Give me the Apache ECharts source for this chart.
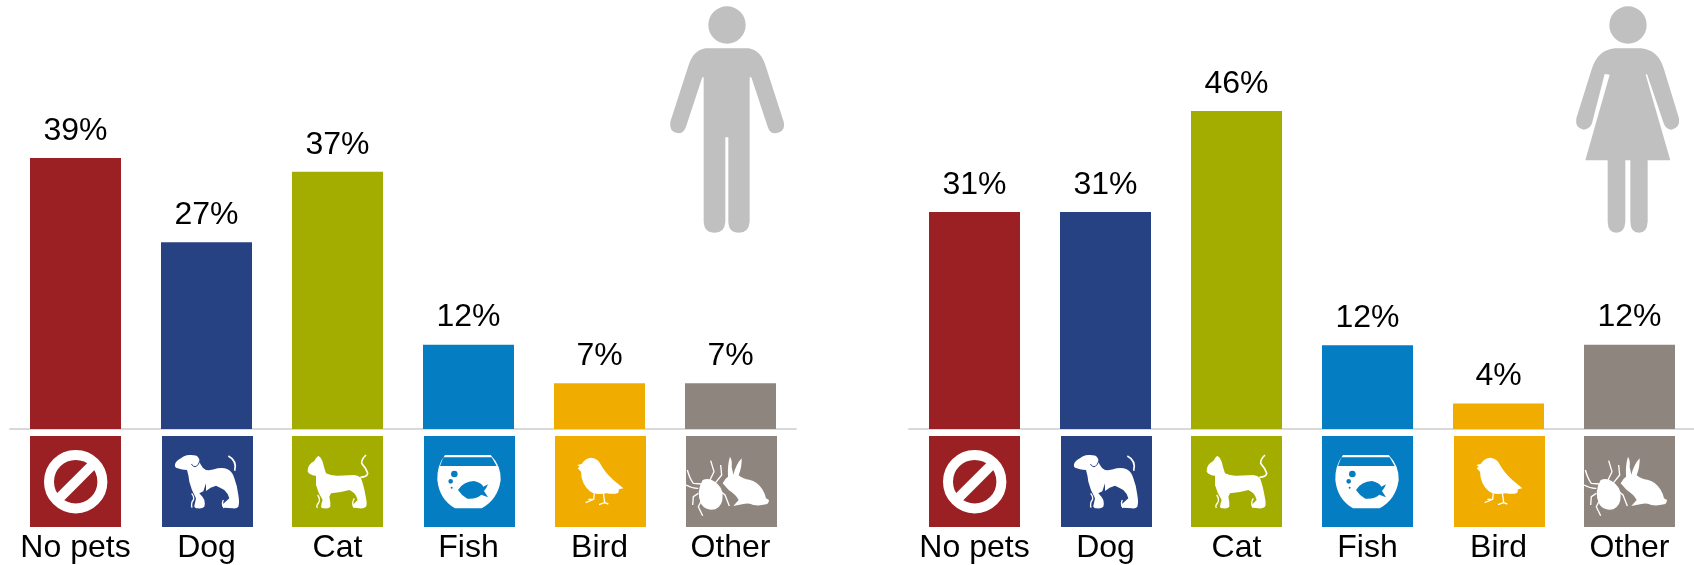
<!DOCTYPE html>
<html><head><meta charset="utf-8">
<style>html,body{margin:0;padding:0;background:#fff}#c{width:1694px;height:565px}</style>
<script src="https://cdn.jsdelivr.net/npm/echarts@6/dist/echarts.min.js"></script>
</head><body><div id="c"></div>
<script>
const categories = ['No pets','Dog','Cat','Fish','Bird','Other'];
const menValues = [39.2,27.0,37.2,12.2,6.6,6.6];
const womenValues = [31.4,31.4,46.0,12.1,3.7,12.2];
const colors = ['#9b2023','#274283','#a3ad00','#057dc2','#f0ad00','#8f857f'];
const iconShiftMen = [0,1,0,1,1,1];
const iconShiftWomen = [0,1,0,0,1,0];

function dot(x,y,r){return `M${x-r},${y}a${r},${r} 0 1,0 ${2*r},0a${r},${r} 0 1,0 ${-2*r},0Z`;}

// Icon shapes are drawn in a 273-unit tile (scaled to the 91px tile).
const icons = [
 { circle:true },
 { fill:'M39,85 Q42,74 57,67 Q66,58 82,57 Q104,56 107,62 Q114,68 112,77 L117,87 Q122,98 132,102 Q150,104 167,97 Q184,94 197,100 Q212,108 217,127 Q226,150 229,177 Q233,200 229,212 Q224,219 212,217 L187,215 Q178,212 182,205 Q190,198 202,187 Q198,172 187,162 Q174,154 162,149 L146,155 L132,165 L132,142 L124,166 L112,172 Q122,182 127,192 Q130,206 127,212 Q120,219 107,217 Q96,216 97,209 Q100,198 102,187 Q88,162 82,137 Q80,118 75,102 Q66,102 57,100 L42,95 Q37,92 39,85Z',
   lines:[[5,'M199,60 Q226,74 218,104'],[4,'M89,172 Q98,184 94,192 Q86,202 90,215'],[4,'M184,192 Q178,204 186,216']],
   ink:[[3,'M88,84 Q94,94 102,92 Q110,86 113,76']] },
 { fill:'M79,59 Q88,64 92,77 Q96,94 102,112 Q118,120 137,119 L187,117 Q200,118 207,127 Q216,150 222,187 Q226,205 222,212 Q214,219 202,217 L187,215 Q180,212 182,207 L197,192 Q194,180 187,172 Q180,166 172,162 Q145,170 117,172 L112,182 Q116,198 115,212 Q110,219 97,217 Q87,216 87,212 Q88,202 92,192 Q78,170 72,147 L72,119 Q55,118 47,107 Q46,96 52,87 Q58,80 67,75 Q72,64 79,59Z',
   lines:[[5,'M205,124 Q226,122 227,112 Q222,96 209,82 Q208,70 222,57'],[4,'M77,177 Q86,190 80,200 Q72,208 76,216'],[4,'M187,187 Q178,200 186,215']] },
 { fill:'M63,57 L200,57 Q232,90 230,132 Q222,190 173,217 L93,217 Q46,190 40,132 Q38,90 63,57Z',
   ink:[[0,'M58,64 L203,64 L218,90 L48,90Z '+dot(91,114,10)+dot(80,136,7)+dot(83,155,3)+
     'M102,162 Q118,136 150,135 Q172,140 178,152 L192,145 Q186,160 180,165 Q186,174 192,184 L172,176 Q158,190 130,188 Q112,178 102,162Z']] },
 { fill:'M67,87 L80,84 Q90,66 110,65 Q128,68 135,82 Q150,110 175,132 L205,157 L192,160 L190,170 Q178,176 155,172 Q130,176 115,172 Q88,158 80,125 L78,107 L68,97 L74,92Z',
   lines:[[4,'M118,172 L116,190 L92,200 M116,190 L100,190'],[4,'M145,170 L149,200 L132,206 M149,200 L160,204']] },
 { fill:'M132,62 Q139,72 137,92 L142,116 Q150,85 167,67 Q168,92 158,118 Q172,130 190,131 Q214,136 229,160 Q238,175 240,187 L249,192 Q248,204 240,205 Q220,210 202,207 Q186,200 172,204 L142,210 L158,192 Q150,176 128,162 L110,142 Q116,128 126,122 Q124,86 132,62Z '+
       'M50,132 Q68,124 84,136 Q110,152 110,180 Q110,210 88,220 Q60,226 46,205 Q28,170 50,132Z',
   lines:[[4,'M4,102 Q12,130 22,142 L47,144'],[4,'M0,147 Q20,158 37,157'],[4,'M37,172 L22,182 L20,207'],[4,'M47,192 L37,212 L50,239'],[4,'M74,74 L84,107 L72,132'],[4,'M104,87 L107,117 L87,142'],[4,'M92,157 L117,177 L130,210']] }
];

const manPath = dot(260,75,56)+'M195,145 L325,145 Q360,150 375,195 L430,365 Q437,395 405,400 Q388,400 382,380 L333,232 L328,232 L328,665 Q325,698 296,698 Q265,698 264,665 L264,412 L255,412 L255,665 Q253,698 223,698 Q192,698 190,665 L190,232 L186,232 L137,380 Q130,400 113,400 Q85,395 90,365 L145,195 Q160,150 195,145Z';
const womanPath = dot(205,75,56)+'M165,145 L245,145 Q295,150 312,205 L358,355 Q362,385 335,389 Q318,388 312,370 L262,222 L258,224 L332,481 L264,481 L264,665 Q262,698 238,698 Q213,698 212,665 L212,481 L197,481 L197,665 Q195,698 170,698 Q145,698 144,665 L144,481 L77,481 L150,224 L135,222 L97,370 Q90,388 72,389 Q45,385 50,355 L97,205 Q115,150 165,145Z';

function tileRenderer(shifts){
  return function(params, api){
    const i = params.dataIndex, base = api.coord([api.value(0),0]);
    const x = Math.round(base[0]-45.5)+shifts[i], y = Math.round(base[1]+7);
    const color = colors[i], ic = icons[i], kids = [];
    kids.push({type:'rect',shape:{x:0,y:0,width:91,height:91},style:{fill:color}});
    const t = {x:0,y:0,scaleX:1/3,scaleY:1/3};
    if(ic.circle){
      kids.push({type:'circle',shape:{cx:45.7,cy:45.7,r:26.7},style:{fill:'none',stroke:'#fff',lineWidth:10}});
      kids.push({type:'line',shape:{x1:29,y1:62.4,x2:62.4,y2:29},style:{stroke:'#fff',lineWidth:10}});
    }
    if(ic.fill) kids.push(Object.assign({type:'path',shape:{pathData:ic.fill},style:{fill:'#fff'}},t));
    (ic.lines||[]).forEach(l=>kids.push(Object.assign({type:'path',shape:{pathData:l[1]},style:{fill:'none',stroke:'#fff',lineWidth:l[0]}},t)));
    (ic.ink||[]).forEach(l=>kids.push(Object.assign({type:'path',shape:{pathData:l[1]},style:l[0]?{fill:'none',stroke:color,lineWidth:l[0]}:{fill:color}},t)));
    return {type:'group',x,y,children:kids};
  };
}
function personRenderer(path, dx, originX){
  return function(params, api){
    const base = api.coord([api.value(0),0]);
    return {type:'path',x:base[0]+dx-originX/3,y:0,scaleX:1/3,scaleY:1/3,shape:{pathData:path},style:{fill:'#c0c0c0'}};
  };
}
const font = 'Liberation Sans, Arial, sans-serif';
function panel(idx, values, shifts, person){
  return [
   {type:'bar',xAxisIndex:idx,yAxisIndex:idx,barWidth:91,z:3,silent:true,
    data:values.map((v,i)=>({value:v,itemStyle:{color:colors[i]}})),
    label:{show:true,position:'top',distance:11,fontFamily:font,fontSize:32,color:'#000',formatter:p=>Math.round(p.value)+'%'}},
   {type:'custom',xAxisIndex:idx,yAxisIndex:idx,silent:true,z:3,renderItem:tileRenderer(shifts),data:categories.map((c,i)=>[i,0]),clip:false},
   {type:'custom',xAxisIndex:idx,yAxisIndex:idx,silent:true,z:1,renderItem:personRenderer(person.path,person.dx,person.ox),data:[[5,0]],clip:false}
  ];
}
const xAxisOf = (gridIndex)=>({type:'category',gridIndex,data:categories,
  axisTick:{show:false},axisLine:{show:true,onZero:true,lineStyle:{color:'#d9d9d9',width:2}},
  axisLabel:{interval:0,margin:103,fontFamily:font,fontSize:32,color:'#000',hideOverlap:false}});
const yAxisOf = (gridIndex)=>({type:'value',gridIndex,min:0,max:62.05,show:false,splitLine:{show:false}});

echarts.init(document.getElementById('c'),null,{renderer:'canvas'}).setOption({
  animation:false,backgroundColor:'#fff',
  grid:[{left:10,top:0,width:786,height:429,outerBoundsMode:'none'},{left:909,top:0,width:786,height:429,outerBoundsMode:'none'}],
  xAxis:[xAxisOf(0),xAxisOf(1)],yAxis:[yAxisOf(0),yAxisOf(1)],
  series:[...panel(0,menValues,iconShiftMen,{path:manPath,dx:-3.5,ox:260}),
          ...panel(1,womenValues,iconShiftWomen,{path:womanPath,dx:-1.5,ox:205})]
});
</script></body></html>
